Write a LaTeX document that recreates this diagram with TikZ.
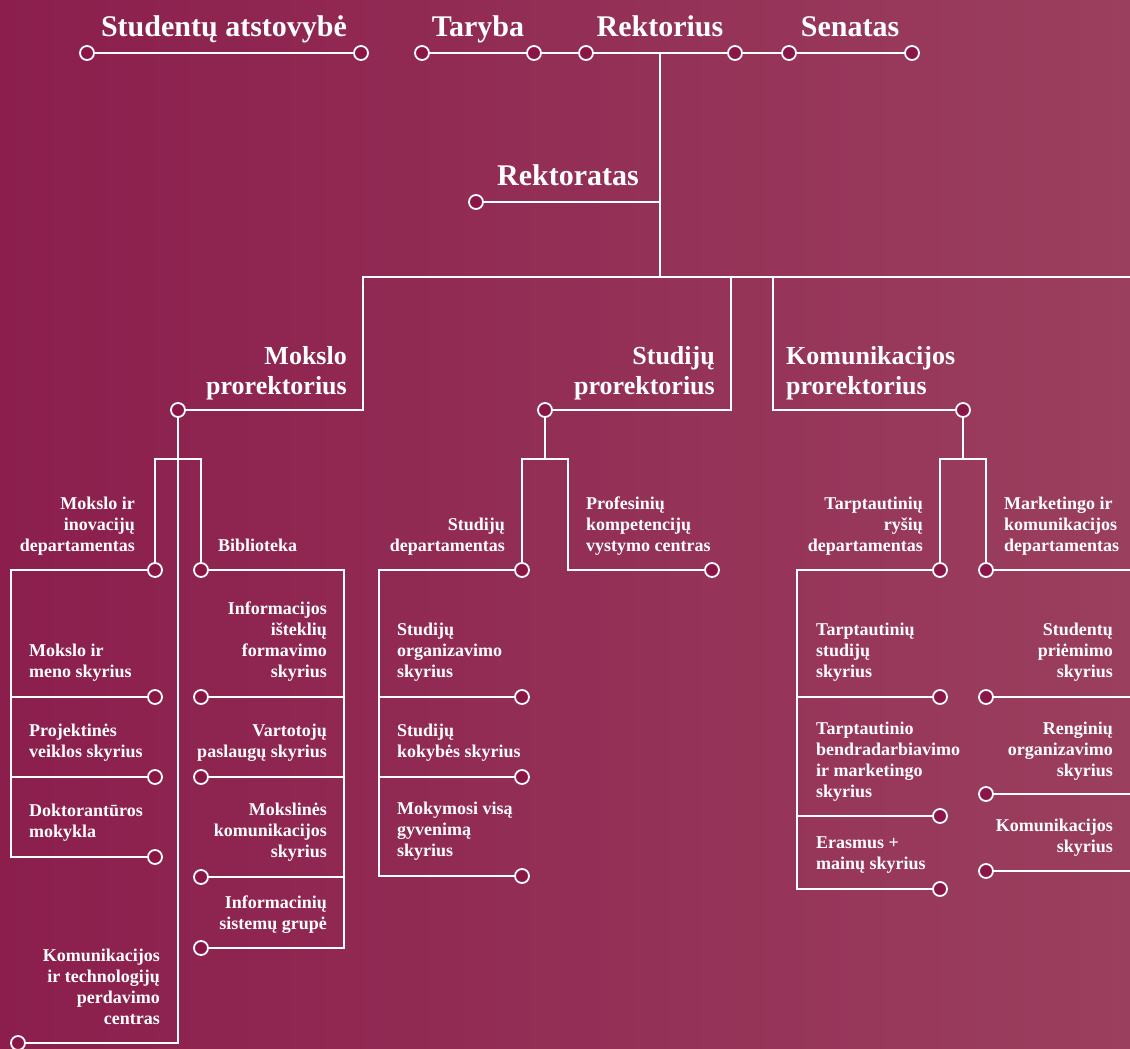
\documentclass[tikz,border=0pt]{standalone}
\usepackage{fontspec}
\setmainfont{Liberation Serif}

\definecolor{bgleft}{RGB}{139,30,77}
\definecolor{bgright}{RGB}{155,63,94}
\definecolor{dotfill}{RGB}{138,22,72}

\newcommand{\rstack}[1]{\begin{tabular}[b]{@{}r@{}}#1\end{tabular}}
\newcommand{\lstack}[1]{\begin{tabular}[b]{@{}l@{}}#1\end{tabular}}

\begin{document}
\begin{tikzpicture}[x=1pt,y=-1pt]
	\shade[left color=bgleft,right color=bgright] (0,0) rectangle (1130,1049);
	\useasboundingbox (0,0) rectangle (1130,1049);

	% dots
	\begin{scope}[every node/.style={circle,draw=white,line width=1.8pt,fill=dotfill,minimum size=14pt,inner sep=0pt}]
		\node (sa1) at (87,53) {};
		\node (sa2) at (361,53) {};
		\node (ta1) at (422,53) {};
		\node (ta2) at (534,53) {};
		\node (re1) at (586,53) {};
		\node (re2) at (735,53) {};
		\node (se1) at (789,53) {};
		\node (se2) at (912,53) {};
		\node (rt) at (476,202) {};

		\node (mp) at (178,410) {};
		\node (sp) at (545,410) {};
		\node (kp) at (963,410) {};

		\node (mid) at (155,570) {};
		\node (bib) at (201,570) {};
		\node (m1) at (155,697) {};
		\node (m2) at (155,777) {};
		\node (m3) at (155,857) {};
		\node (b1) at (201,697) {};
		\node (b2) at (201,777) {};
		\node (b3) at (201,877) {};
		\node (b4) at (201,948) {};
		\node (ktc) at (18,1043) {};

		\node (sd) at (522,570) {};
		\node (pk) at (712,570) {};
		\node (s1) at (522,697) {};
		\node (s2) at (522,777) {};
		\node (s3) at (522,876) {};

		\node (tr) at (940,570) {};
		\node (mk) at (986,570) {};
		\node (t1) at (940,697) {};
		\node (t2) at (940,816) {};
		\node (t3) at (940,889) {};
		\node (k1) at (986,697) {};
		\node (k2) at (986,794) {};
		\node (k3) at (986,871) {};
	\end{scope}

	\coordinate (rtop) at (660,53);
	\coordinate (rj) at (660,277);
	\coordinate (hL) at (363,277);
	\coordinate (hR) at (1130,277);
	\coordinate (mj) at (178,459);
	\coordinate (sj) at (545,459);
	\coordinate (kj) at (963,459);
	\coordinate (mL) at (11,570);
	\coordinate (bR) at (344,570);
	\coordinate (sL) at (379,570);
	\coordinate (tL) at (797,570);
	\coordinate (mR) at (1130,570);

	% lines
	\begin{scope}[every path/.style={draw=white,line width=2.2pt}]
		\path (sa1) -- (sa2);
		\path (ta1) -- (ta2);
		\path (ta2) -- (re1);
		\path (re1) -- (re2);
		\path (re2) -- (se1);
		\path (se1) -- (se2);
		\path (rtop) -- (rj);
		\path (rt) -- (rt -| rj);

		\path (mp) -| (hL) -- (hR);
		\path (sp) -| (731,277);
		\path (kp) -| (773,277);

		\path (mp) |- (ktc);
		\path (mid) |- (mj) -| (bib);
		\path (mid) -- (mL) -- (mL |- m3) -- (m3);
		\path (m1) -- (m1 -| mL);
		\path (m2) -- (m2 -| mL);
		\path (bib) -- (bR) -- (bR |- b4) -- (b4);
		\path (b1) -- (b1 -| bR);
		\path (b2) -- (b2 -| bR);
		\path (b3) -- (b3 -| bR);

		\path (sp) -- (sj);
		\path (sd) |- (sj) -- (568,459) |- (pk);
		\path (sd) -- (sL) -- (sL |- s3) -- (s3);
		\path (s1) -- (s1 -| sL);
		\path (s2) -- (s2 -| sL);

		\path (kp) -- (kj);
		\path (tr) |- (kj) -| (mk);
		\path (tr) -- (tL) -- (tL |- t3) -- (t3);
		\path (t1) -- (t1 -| tL);
		\path (t2) -- (t2 -| tL);
		\path (mk) -- (mR);
		\path (k1) -- (k1 -| mR);
		\path (k2) -- (k2 -| mR);
		\path (k3) -- (k3 -| mR);
	\end{scope}

	% labels
	\begin{scope}[every node/.style={text=white,inner sep=0pt,font=\bfseries\fontsize{18}{21}\selectfont}]
		\node[anchor=base,font=\bfseries\fontsize{30}{36}\selectfont] (saT) at (224,37) {Studentų atstovybė};
		\node[anchor=base,font=\bfseries\fontsize{30}{36}\selectfont] (taT) at (478,37) {Taryba};
		\node[anchor=base,font=\bfseries\fontsize{30}{36}\selectfont] (reT) at (660,37) {Rektorius};
		\node[anchor=base,font=\bfseries\fontsize{30}{36}\selectfont] (seT) at (850,37) {Senatas};
		\node[anchor=base,font=\bfseries\fontsize{30}{36}\selectfont] (rtT) at (568,185) {Rektoratas};

		\node[anchor=base east,font=\bfseries\fontsize{26}{30}\selectfont] (mpT) at (347,394) {\rstack{Mokslo\\prorektorius}};
		\node[anchor=base east,font=\bfseries\fontsize{26}{30}\selectfont] (spT) at (715,394) {\rstack{Studijų\\prorektorius}};
		\node[anchor=base west,font=\bfseries\fontsize{26}{30}\selectfont] (kpT) at (786,394) {\lstack{Komunikacijos\\prorektorius}};

		\node[anchor=base east] (midT) at (135,551) {\rstack{Mokslo ir\\inovacijų\\departamentas}};
		\node[anchor=base west] (bibT) at (218,551) {Biblioteka};
		\node[anchor=base west] (m1T) at (29,677) {\lstack{Mokslo ir\\meno skyrius}};
		\node[anchor=base west] (m2T) at (29,757) {\lstack{Projektinės\\veiklos skyrius}};
		\node[anchor=base west] (m3T) at (29,837) {\lstack{Doktorantūros\\mokykla}};
		\node[anchor=base east] (b1T) at (327,677) {\rstack{Informacijos\\išteklių\\formavimo\\skyrius}};
		\node[anchor=base east] (b2T) at (327,757) {\rstack{Vartotojų\\paslaugų skyrius}};
		\node[anchor=base east] (b3T) at (327,857) {\rstack{Mokslinės\\komunikacijos\\skyrius}};
		\node[anchor=base east] (b4T) at (327,929) {\rstack{Informacinių\\sistemų grupė}};
		\node[anchor=base east] (ktcT) at (160,1024) {\rstack{Komunikacijos\\ir technologijų\\perdavimo\\centras}};

		\node[anchor=base east] (sdT) at (505,551) {\rstack{Studijų\\departamentas}};
		\node[anchor=base west] (pkT) at (586,551) {\lstack{Profesinių\\kompetencijų\\vystymo centras}};
		\node[anchor=base west] (s1T) at (397,677) {\lstack{Studijų\\organizavimo\\skyrius}};
		\node[anchor=base west] (s2T) at (397,757) {\lstack{Studijų\\kokybės skyrius}};
		\node[anchor=base west] (s3T) at (397,856) {\lstack{Mokymosi visą\\gyvenimą\\skyrius}};

		\node[anchor=base east] (trT) at (923,551) {\rstack{Tarptautinių\\ryšių\\departamentas}};
		\node[anchor=base west] (mkT) at (1004,551) {\lstack{Marketingo ir\\komunikacijos\\departamentas}};
		\node[anchor=base west] (t1T) at (816,677) {\lstack{Tarptautinių\\studijų\\skyrius}};
		\node[anchor=base west] (t2T) at (816,797) {\lstack{Tarptautinio\\bendradarbiavimo\\ir marketingo\\skyrius}};
		\node[anchor=base west] (t3T) at (816,869) {\lstack{Erasmus +\\mainų skyrius}};
		\node[anchor=base east] (k1T) at (1113,677) {\rstack{Studentų\\priėmimo\\skyrius}};
		\node[anchor=base east] (k2T) at (1113,776) {\rstack{Renginių\\organizavimo\\skyrius}};
		\node[anchor=base east] (k3T) at (1113,852) {\rstack{Komunikacijos\\skyrius}};
	\end{scope}
\end{tikzpicture}
\end{document}
